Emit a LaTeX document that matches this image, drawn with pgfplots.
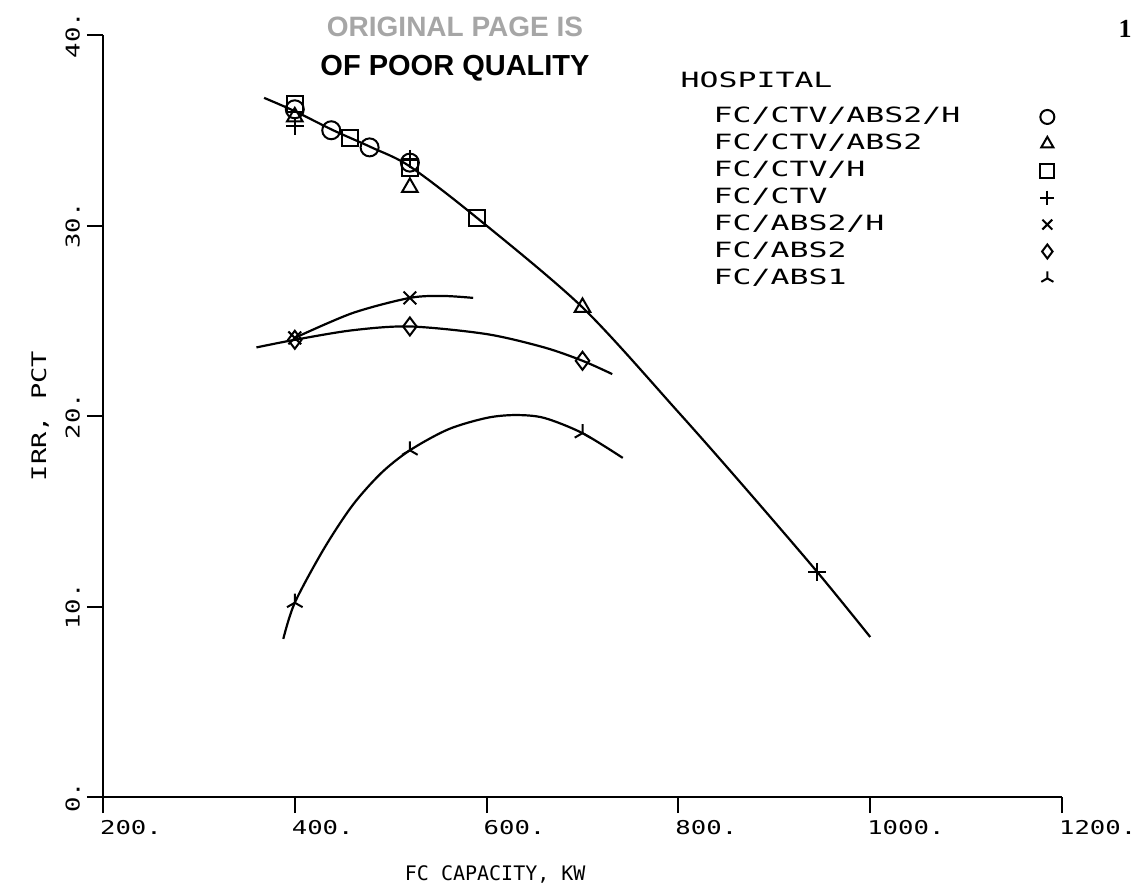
\documentclass[border=0pt]{standalone}
\usepackage{pgfplots}
\pgfplotsset{compat=1.18}
\usepackage{fontspec}
\setmainfont{DejaVu Sans Mono}[FakeStretch=1.35]
\newfontfamily\legfont{DejaVu Sans Mono}[FakeStretch=1.5]
\newfontfamily\labfont{DejaVu Sans Mono}
\newfontfamily\stampfont{Liberation Sans}
\newfontfamily\pagefont{Liberation Serif}
\begin{document}
\begin{tikzpicture}
\useasboundingbox (-51.5pt,-47pt) rectangle (518.5pt,398.5pt);
\begin{axis}[
  at={(0pt,0pt)}, anchor=south west,
  scale only axis, width=479.5pt, height=381pt,
  xmin=200, xmax=1200, ymin=0, ymax=40,
  axis lines*=left,
  axis line style={line width=1.1pt},
  every tick/.style={black, line width=1pt},
  tick align=outside, major tick length=8pt,
  xtick={200,400,...,1200}, xticklabels={200.,400.,600.,800.,1000.,1200.},
  ytick={0,10,...,40}, yticklabels={0.,10.,20.,30.,40.},
  xticklabel style={anchor=north west, xshift=-5pt, font=\fontsize{9.5}{10}\selectfont},
  yticklabel style={rotate=90, anchor=south, font=\fontsize{9.5}{10}\selectfont},
  xlabel={FC CAPACITY, KW},
  ylabel={IRR, PCT},
  every axis x label/.style={at={(axis description cs:0.409,-0.102)}, anchor=center, font=\labfont\fontsize{10}{11}\selectfont},
  every axis y label/.style={at={(axis description cs:-0.0657,0.5)}, rotate=90, anchor=center, font=\fontsize{10}{11}\selectfont},
  legend style={draw=none, fill=none, at={(axis description cs:0.602,0.941)}, anchor=north west,
    inner sep=0pt, row sep=3.75pt, column sep=35pt, font=\legfont\fontsize{10.5}{11}\selectfont,
    nodes={inner sep=0pt, text height=7.7pt, text depth=2pt}},
  legend cell align=left, legend plot pos=right,
  legend image post style={mark size=3.5pt},
  clip=false,
]
% curves
\addplot[black, line width=1.1pt, smooth, forget plot] coordinates {
 (368,36.7) (400,36.0) (440,35.0) (480,34.1) (520,33.1) (590,30.4) (700,25.7) (800,20.2) (870,16.2) (945,11.8) (1000,8.4)};
\addplot[black, line width=1.1pt, smooth, forget plot] coordinates {
 (400,24.1) (460,25.4) (520,26.2) (555,26.3) (586,26.2)};
\addplot[black, line width=1.1pt, smooth, forget plot] coordinates {
 (360,23.6) (400,24.0) (460,24.5) (520,24.7) (600,24.3) (660,23.6) (700,22.9) (731,22.2)};
\addplot[black, line width=1.1pt, smooth, forget plot] coordinates {
 (388,8.3) (400,10.2) (430,13.0) (460,15.3) (490,17.0) (520,18.2) (560,19.3) (600,19.9) (630,20.05) (660,19.9) (700,19.1) (742,17.8)};
% legend header
\addlegendimage{empty legend}
\addlegendentry{\raisebox{4pt}{HOSPITAL}}
% marker series
\addplot[black, only marks, mark=o, mark size=4.5pt, mark options={line width=1pt, fill=white}] coordinates {
 (400,36.1) (438,35.0) (478,34.1) (520,33.3)};
\addlegendentry{\hspace*{16.5pt}FC/CTV/ABS2/H}
\addplot[black, only marks, mark=triangle, mark size=4.5pt, mark options={line width=1pt, fill=white}] coordinates {
 (400,35.7) (520,32.0) (700,25.7)};
\addlegendentry{\hspace*{16.5pt}FC/CTV/ABS2}
\addplot[black, only marks, mark=square, mark size=4pt, mark options={line width=1pt, fill=white}] coordinates {
 (400,36.4) (458,34.6) (520,33.0) (590,30.4)};
\addlegendentry{\hspace*{16.5pt}FC/CTV/H}
\addplot[black, only marks, mark=+, mark size=4.5pt, mark options={line width=1pt}] coordinates {
 (400,35.2) (520,33.5) (945,11.8)};
\addlegendentry{\hspace*{16.5pt}FC/CTV}
\addplot[black, only marks, mark=x, mark size=4.5pt, mark options={line width=1pt}] coordinates {
 (400,24.1) (520,26.2)};
\addlegendentry{\hspace*{16.5pt}FC/ABS2/H}
\addplot[black, only marks, mark=diamond, mark size=4.5pt, mark options={line width=1pt, fill=white}] coordinates {
 (400,24.0) (520,24.7) (700,22.9)};
\addlegendentry{\hspace*{16.5pt}FC/ABS2}
\addplot[black, only marks, mark=Mercedes star, mark size=4.5pt, mark options={line width=1pt}] coordinates {
 (400,10.2) (520,18.2) (700,19.1)};
\addlegendentry{\hspace*{16.5pt}FC/ABS1}
\end{axis}
\node[text=black!35, font=\stampfont\bfseries\fontsize{14}{15}\selectfont] at (176pt,385pt) {ORIGINAL PAGE IS};
\node[font=\stampfont\bfseries\fontsize{14.5}{15}\selectfont] at (176pt,364.5pt) {OF POOR QUALITY};
\node[font=\pagefont\bfseries\fontsize{13}{14}\selectfont] at (511pt,384pt) {1};
\end{tikzpicture}
\end{document}
